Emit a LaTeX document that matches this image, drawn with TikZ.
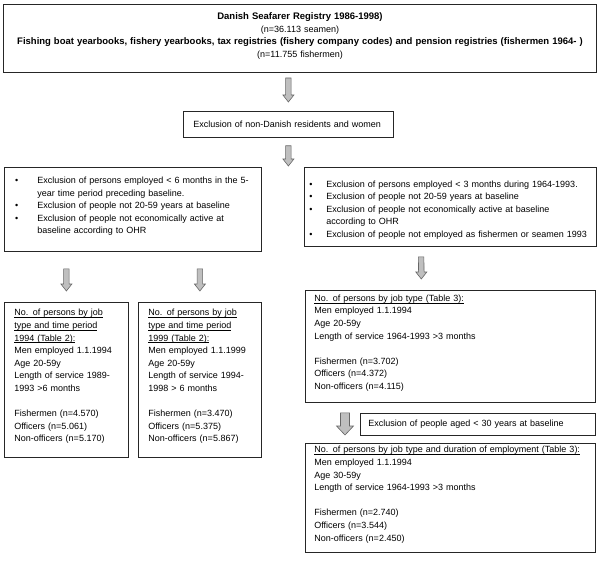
\documentclass[tikz,border=0pt]{standalone}
\usepackage{fontspec}
\setmainfont{Liberation Sans}
\usepackage{enumitem}
\usetikzlibrary{calc}
\newcommand\undl[1]{\underline{\smash{#1}}}
\newcommand\padbelow[1]{\par\vspace{#1}\hrule height 0pt}

\begin{document}
\begin{tikzpicture}[x=1pt,y=-1pt,
    box/.style={draw=black!85, line width=.8pt, anchor=north west, inner ysep=0pt, align=left,
        font=\fontsize{9}{12.6}\selectfont},
    blockarrow/.style n args={3}{draw=black!60, fill=black!25, line width=.6pt, to path={
        ($(\tikztostart)+(-#1,0)$) -- ($(\tikztotarget)+(-#1,-#3)$) -- ($(\tikztotarget)+(-#2,-#3)$)
        -- (\tikztotarget) -- ($(\tikztotarget)+(#2,-#3)$) -- ($(\tikztotarget)+(#1,-#3)$)
        -- ($(\tikztostart)+(#1,0)$) -- cycle}},
    smallarrow/.style={blockarrow={2.75}{5.5}{7}},
    bigarrow/.style={blockarrow={4.5}{8.5}{9}}]
    \path[use as bounding box, fill=white] (0,0) rectangle (600,567);

    \node[box, text width=587pt, inner xsep=3pt, minimum height=68pt, align=center, line width=1pt] (src) at (3,4)
        {{\fontsize{9.5}{12.5}\selectfont\bfseries Danish Seafarer Registry 1986-1998)}\\
         (n=36.113 seamen)\\
         {\fontsize{9.5}{12.5}\selectfont\bfseries Fishing boat yearbooks, fishery yearbooks, tax registries (fishery company codes) and pension registries (fishermen 1964- )}\\
         (n=11.755 fishermen)\padbelow{5pt}};
    \node[box, text width=190pt, inner xsep=10pt, minimum height=26pt] (excl) at (183,111)
        {Exclusion of non-Danish residents and women};

    \node[box, text width=249pt, inner xsep=4pt, minimum height=84pt] (left) at (4,167)
        {\begin{itemize}[nosep, leftmargin=29pt, labelsep=19pt]
         \item Exclusion of persons employed < 6 months in the 5-\newline year time period preceding baseline.
         \item Exclusion of people not 20-59 years at baseline
         \item Exclusion of people not economically active at\newline baseline according to OHR
         \end{itemize}\padbelow{12pt}};
    \node[box, text width=284pt, inner xsep=4pt, minimum height=79pt] (right) at (304,167)
        {\begin{itemize}[nosep, leftmargin=18pt, labelsep=14pt]
         \item Exclusion of persons employed < 3 months during 1964-1993.
         \item Exclusion of people not 20-59 years at baseline
         \item Exclusion of people not economically active at baseline\newline according to OHR
         \item Exclusion of people not employed as fishermen or seamen 1993
         \end{itemize}};

    \node[box, text width=104pt, inner xsep=10pt, minimum height=155pt] (tabA) at (4,302)
        {\undl{No. of persons by job}\\ \undl{type and time period}\\ \undl{1994 (Table 2):}\\
         Men employed 1.1.1994\\ Age 20-59y\\ Length of service 1989-\\ 1993 >6 months\\[12.6pt]
         Fishermen (n=4.570)\\ Officers (n=5.061)\\ Non-officers (n=5.170)};
    \node[box, text width=103pt, inner xsep=10pt, minimum height=155pt] (tabB) at (138,302)
        {\undl{No. of persons by job}\\ \undl{type and time period}\\ \undl{1999 (Table 2):}\\
         Men employed 1.1.1999\\ Age 20-59y\\ Length of service 1994-\\ 1998 > 6 months\\[12.6pt]
         Fishermen (n=3.470)\\ Officers (n=5.375)\\ Non-officers (n=5.867)};
    \node[box, text width=272pt, inner xsep=9pt, minimum height=112pt] (tabC) at (305,290)
        {\undl{No. of persons by job type (Table 3):}\\
         Men employed 1.1.1994\\ Age 20-59y\\ Length of service 1964-1993 >3 months\\[12.6pt]
         Fishermen (n=3.702)\\ Officers (n=4.372)\\ Non-officers (n=4.115)};
    \node[box, text width=219pt, inner xsep=8pt, minimum height=22pt] (age) at (360,413)
        {Exclusion of people aged < 30 years at baseline};
    \node[box, text width=272pt, inner xsep=9pt, minimum height=109pt] (tabD) at (305,443)
        {\undl{No. of persons by job type and duration of employment (Table 3):}\\
         Men employed 1.1.1994\\ Age 30-59y\\ Length of service 1964-1993 >3 months\\[12.6pt]
         Fishermen (n=2.740)\\ Officers (n=3.544)\\ Non-officers (n=2.450)};

    \draw[smallarrow] ($(excl.north |- src.south)+(0,5)$) to ($(excl.north)+(0,-9)$);
    \draw[smallarrow] ($(excl.south)+(0,8)$) to ($(excl.south |- left.north)+(0,-1)$);
    \draw[smallarrow] ($(tabA.north |- left.south)+(0,17)$) to ($(tabA.north)+(0,-11)$);
    \draw[smallarrow] ($(tabB.north |- left.south)+(0,17)$) to ($(tabB.north)+(0,-11)$);
    \draw[smallarrow] ($(right.south west)!.4!(right.south east)+(0,10)$) to ($(tabC.north west)!.4!(tabC.north east)+(0,-11)$);
    \draw[bigarrow] ($(tabC.south west)+(40,10)$) to ($(tabD.north west)+(40,-8)$);
\end{tikzpicture}
\end{document}
